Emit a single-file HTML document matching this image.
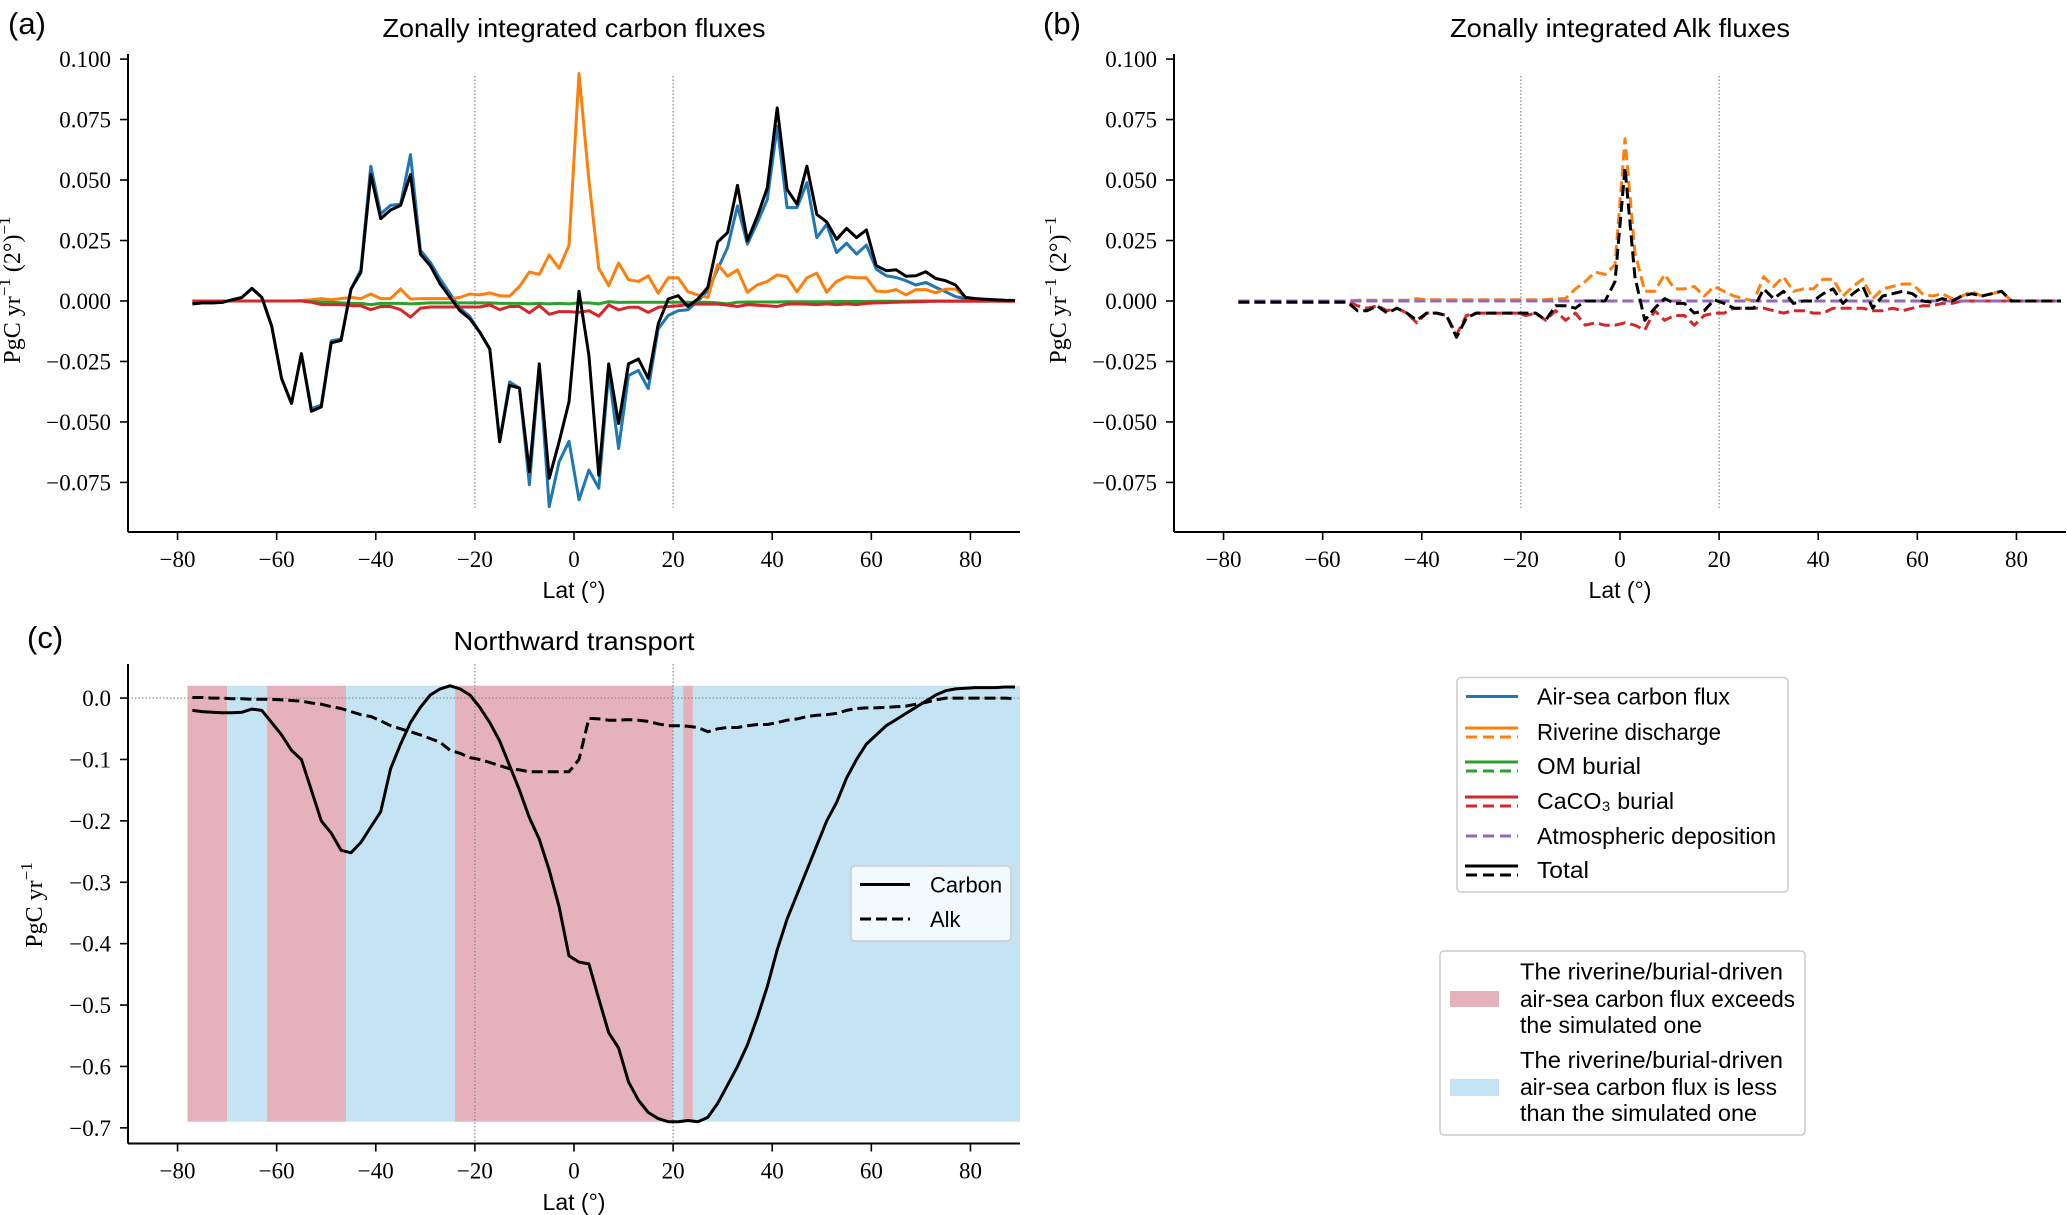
<!DOCTYPE html>
<html><head><meta charset="utf-8"><title>Carbon and Alk fluxes</title>
<style>
html,body{margin:0;padding:0;background:#fff;}
svg{display:block;}
.sans{font-family:"Liberation Sans",sans-serif;}
.serif{font-family:"Liberation Serif",serif;}
</style></head>
<body>
<svg id="fig" width="2067" height="1215" viewBox="0 0 2067 1215" xmlns="http://www.w3.org/2000/svg">
<rect width="2067" height="1215" fill="#fff"/>
</svg>
<script>
// ---------- data ----------
const lats = [-77,-75,-73,-71,-69,-67,-65,-63,-61,-59,-57,-55,-53,-51,-49,-47,-45,-43,-41,-39,-37,-35,-33,-31,-29,-27,-25,-23,-21,-19,-17,-15,-13,-11,-9,-7,-5,-3,-1,
1,3,5,7,9,11,13,15,17,19,21,23,25,27,29,31,33,35,37,39,41,43,45,47,49,51,53,55,57,59,61,63,65,67,69,71,73,75,77,79,81,83,85,87,89];

// panel (a) carbon fluxes
const cAirSea = [-0.0012,-0.0008,-0.0008,-0.0006,0.0005,0.0015,0.0052,0.0015,-0.0104,-0.0321,-0.0424,-0.0218,-0.0445,-0.043,-0.0165,-0.0157,0.0049,0.013,0.0557,0.036,0.0395,0.040,0.0605,0.021,0.016,0.009,0.003,-0.003,-0.0065,-0.013,-0.02,-0.058,-0.0335,-0.036,-0.076,-0.027,-0.085,-0.0665,-0.058,
-0.0822,-0.0699,-0.0774,-0.0294,-0.061,-0.0308,-0.0287,-0.0362,-0.0115,-0.006,-0.004,-0.0036,0,0.0043,0.0132,0.0221,0.0393,0.0235,0.0324,0.042,0.0722,0.0386,0.0386,0.0489,0.0262,0.0317,0.02,0.0239,0.0194,0.0231,0.0132,0.0104,0.0097,0.0084,0.0066,0.0077,0.0056,0.0038,0.0018,0.001,0.0008,0.0005,0.0003,0.0002,0.0001];
const cRiver = [0,0,0,0,0,0,0,0,0,0,0,0.0002,0.0005,0.001,0.0005,0.001,0.0015,0.001,0.0029,0.001,0.001,0.005,0.0008,0.001,0.001,0.001,0.001,0.0015,0.0029,0.0025,0.0033,0.0022,0.002,0.006,0.012,0.011,0.019,0.0135,0.023,
0.094,0.05,0.0135,0.0063,0.0157,0.0088,0.0081,0.0104,0.0032,0.0096,0.0096,0.0038,0.0025,0.0015,0.0151,0.0103,0.0129,0.0036,0.0067,0.0081,0.0108,0.01,0.0038,0.0096,0.0115,0.0036,0.0081,0.01,0.0096,0.0096,0.0041,0.0038,0.0047,0.0025,0.0047,0.0047,0.0034,0.0049,0.0049,0.0015,0,0,0,0,0];
const cOM = [0,0,0,0,0,0,0,0,0,0,0,0,-0.0002,-0.0004,-0.0006,-0.0008,-0.001,-0.001,-0.0015,-0.001,-0.001,-0.001,-0.0012,-0.001,-0.0008,-0.0008,-0.0008,-0.0008,-0.0008,-0.0008,-0.0008,-0.001,-0.001,-0.001,-0.0012,-0.001,-0.0012,-0.001,-0.0012,
-0.0008,-0.0008,-0.0012,-0.0003,-0.0006,-0.0005,-0.0005,-0.0005,-0.0005,-0.0005,-0.0005,-0.0005,-0.0005,-0.0005,-0.0008,-0.0012,-0.0005,-0.0004,-0.0004,-0.0004,-0.0004,-0.0003,-0.0003,-0.0003,-0.0003,-0.0003,-0.0002,-0.0002,-0.0002,-0.0002,-0.0001,-0.0001,-0.0001,-0.0001,0,0,0,0,0,0,0,0,0,0,0];
const cCaCO3 = [0,0,0,0,0,0,0,0,0,0,0,0,-0.0005,-0.0015,-0.0015,-0.0015,-0.002,-0.002,-0.0036,-0.0023,-0.0023,-0.0036,-0.0067,-0.003,-0.0025,-0.0025,-0.0025,-0.0025,-0.0025,-0.0025,-0.0016,-0.0036,-0.0023,-0.0023,-0.0049,-0.0019,-0.0055,-0.0044,-0.0044,
-0.0047,-0.004,-0.0063,-0.0016,-0.0037,-0.0026,-0.0026,-0.0047,-0.0026,-0.0023,-0.002,-0.0015,-0.0013,-0.0013,-0.0013,-0.0017,-0.0023,-0.0015,-0.0018,-0.002,-0.0023,-0.0013,-0.0012,-0.0013,-0.0015,-0.0012,-0.0015,-0.0012,-0.0015,-0.001,-0.0008,-0.0007,-0.0005,-0.0004,-0.0003,-0.0002,-0.0001,-0.0001,-0.0001,-0.0001,-0.0001,-0.0001,-0.0001,-0.0001,-0.0001];
const cTotal = [-0.0012,-0.0008,-0.0008,-0.0006,0.0005,0.0015,0.0052,0.0015,-0.0104,-0.0321,-0.0424,-0.0218,-0.0456,-0.0438,-0.0173,-0.0163,0.0049,0.0118,0.0523,0.034,0.0376,0.0395,0.0523,0.0194,0.0146,0.007,0.0015,-0.004,-0.0074,-0.0129,-0.0198,-0.0582,-0.0349,-0.036,-0.0706,-0.026,-0.0733,-0.0582,-0.0417,
0.004,-0.0225,-0.072,-0.026,-0.0507,-0.026,-0.024,-0.032,-0.0095,0.0008,0.0022,-0.0023,0.0008,0.0056,0.0244,0.0283,0.0478,0.0249,0.0351,0.0468,0.0798,0.0461,0.04,0.0557,0.0358,0.0327,0.0255,0.03,0.0262,0.0294,0.0146,0.0125,0.0129,0.0102,0.0104,0.0121,0.0093,0.0084,0.0066,0.0015,0.001,0.0007,0.0005,0.0003,0.0002];

// panel (b) alkalinity fluxes
const aRiver = [0,0,0,0,0,0,0,0,0,0,0,0,0.0003,0.0003,0.0003,0.0003,0.0003,0.0003,0.001,0.0005,0.0005,0.0005,0.0005,0.0005,0.0005,0.0005,0.0005,0.0005,0.0005,0.0005,0.0005,0.0005,0.001,0.001,0.005,0.008,0.012,0.011,0.015,
0.067,0.02,0.004,0.004,0.011,0.005,0.005,0.006,0.002,0.006,0.004,0.002,0.001,0,0.01,0.006,0.01,0.004,0.005,0.005,0.009,0.009,0.002,0.006,0.009,0.001,0.005,0.006,0.007,0.007,0.003,0.002,0.003,0.001,0.002,0.004,0.002,0.003,0.004,0,0,0,0,0,0];
const aOM = [0,0,0,0,0,0,0,0,0,0,0,0,0,0,0,0,0,0,0,0,0,0,0,0,0,0,0,0,0,0,0,0,0,0,0,0,0,0,0,
0,0,0,0,0,0,0,0,0,0,0,0,0,0,0,0,0,0,0,0,0,0,0,0,0,0,0,0,0,0,0,0,0,0,0,0,0,0,0,0,0,0,0,0,0];
const aCaCO3 = [0,0,0,0,0,0,0,0,0,0,0,0,-0.002,-0.003,-0.002,-0.004,-0.003,-0.005,-0.009,-0.005,-0.005,-0.006,-0.014,-0.006,-0.005,-0.005,-0.005,-0.005,-0.005,-0.006,-0.005,-0.008,-0.004,-0.008,-0.005,-0.01,-0.009,-0.01,-0.01,
-0.009,-0.01,-0.012,-0.004,-0.008,-0.006,-0.006,-0.01,-0.006,-0.005,-0.005,-0.003,-0.003,-0.003,-0.003,-0.004,-0.005,-0.004,-0.004,-0.005,-0.005,-0.003,-0.003,-0.003,-0.003,-0.004,-0.004,-0.003,-0.004,-0.003,-0.002,-0.002,-0.001,-0.001,0,0,0,0,0,0,0,0,0,0,0];
const aAtm = [0,0,0,0,0,0,0,0,0,0,0,0,0,0,0,0,0,0,0,0,0,0,0,0,0,0,0,0,0,0,0,0,0,0,0,0,0,0,0,
0,0,0,0,0,0,0,0,0,0,0,0,0,0,0,0,0,0,0,0,0,0,0,0,0,0,0,0,0,0,0,0,0,0,0,0,0,0,0,0,0,0,0,0,0];
const aTotal = [-0.0005,-0.0005,-0.0005,-0.0005,-0.0005,-0.0005,-0.0005,-0.0005,-0.0005,-0.0005,-0.0005,-0.0005,-0.004,-0.004,-0.002,-0.005,-0.003,-0.005,-0.008,-0.005,-0.005,-0.006,-0.015,-0.007,-0.005,-0.005,-0.005,-0.005,-0.005,-0.005,-0.005,-0.008,-0.002,-0.002,-0.003,0,0,0,0.008,
0.055,0.01,-0.008,-0.003,0.001,-0.001,-0.001,-0.005,-0.004,0.0005,-0.001,-0.003,-0.003,-0.003,0.005,0.001,0.004,-0.001,0,0,0.003,0.005,-0.001,0.003,0.006,-0.003,0.002,0.003,0.004,0.003,0,-0.0005,0.001,0,0.002,0.003,0.002,0.003,0.004,0,0,0,0,0,0];

// panel (c) northward transport
const tCarbon = [-0.02,-0.022,-0.023,-0.024,-0.024,-0.023,-0.018,-0.02,-0.04,-0.06,-0.085,-0.1,-0.15,-0.2,-0.22,-0.248,-0.252,-0.235,-0.21,-0.185,-0.115,-0.075,-0.04,-0.015,0.005,0.015,0.02,0.015,0.005,-0.015,-0.04,-0.07,-0.11,-0.15,-0.195,-0.23,-0.28,-0.34,-0.42,
-0.43,-0.433,-0.49,-0.545,-0.57,-0.625,-0.655,-0.675,-0.685,-0.69,-0.69,-0.688,-0.69,-0.683,-0.66,-0.63,-0.6,-0.565,-0.52,-0.47,-0.41,-0.36,-0.32,-0.28,-0.24,-0.2,-0.17,-0.13,-0.1,-0.075,-0.06,-0.045,-0.035,-0.025,-0.015,-0.005,0.005,0.012,0.015,0.016,0.017,0.017,0.017,0.018,0.018];
const tAlk = [0.001,0.001,0,0,-0.001,-0.001,-0.002,-0.002,-0.002,-0.003,-0.004,-0.005,-0.008,-0.01,-0.014,-0.017,-0.022,-0.027,-0.03,-0.037,-0.045,-0.05,-0.055,-0.06,-0.066,-0.072,-0.085,-0.09,-0.097,-0.1,-0.105,-0.11,-0.115,-0.117,-0.12,-0.12,-0.12,-0.12,-0.12,
-0.1,-0.033,-0.034,-0.036,-0.036,-0.035,-0.036,-0.038,-0.042,-0.045,-0.045,-0.046,-0.048,-0.055,-0.05,-0.048,-0.048,-0.045,-0.043,-0.043,-0.04,-0.036,-0.034,-0.03,-0.028,-0.027,-0.025,-0.02,-0.017,-0.016,-0.016,-0.015,-0.014,-0.013,-0.01,-0.007,-0.003,0,0,0,0,0,0,0,-0.001];
const spanStart = [-78,-70,-62,-46,-24,20,22,24];
const spanEnd   = [-70,-62,-46,-24,20,22,24,90];
const spanKind  = ['exceeds','less','exceeds','less','exceeds','less','exceeds','less'];
const spanLow = -0.69, spanHigh = 0.02;

const xTicks = [-80,-60,-40,-20,0,20,40,60,80];
const yTicksAB = [0.1,0.075,0.05,0.025,0,-0.025,-0.05,-0.075];
const yTickLabelsAB = ['0.100','0.075','0.050','0.025','0.000','\u22120.025','\u22120.050','\u22120.075'];
const yTicksC = [0,-0.1,-0.2,-0.3,-0.4,-0.5,-0.6,-0.7];
const yTickLabelsC = ['0.0','\u22120.1','\u22120.2','\u22120.3','\u22120.4','\u22120.5','\u22120.6','\u22120.7'];

// ---------- drawing ----------
const NS = 'http://www.w3.org/2000/svg';
const svg = document.getElementById('fig');
function el(tag, attrs, parent){
  const e = document.createElementNS(NS, tag);
  for (const k in attrs) e.setAttribute(k, attrs[k]);
  (parent||svg).appendChild(e);
  return e;
}
function makeAxes(left, right, top, bottom, yMin, yMax){
  return {
    x: v => left + (v + 90) / 180 * (right - left),
    y: v => bottom - (v - yMin) / (yMax - yMin) * (bottom - top),
    left, right, top, bottom
  };
}
const axA = makeAxes(128, 1020, 54, 532, -0.0955, 0.1021);
const axB = makeAxes(1174, 2066, 54, 532, -0.0955, 0.1021);
const axC = makeAxes(128, 1020, 664, 1143.5, -0.7255, 0.0555);

function pathD(ax, xs, ys){
  let d = '';
  for (let i = 0; i < xs.length; i++) d += (i ? 'L' : 'M') + ax.x(xs[i]).toFixed(1) + ',' + ax.y(ys[i]).toFixed(1);
  return d;
}
function series(ax, ys, color, dashed, name, g){
  const p = el('path', {d: pathD(ax, lats, ys), fill:'none', stroke: color, 'stroke-width': 3, 'stroke-linejoin':'round'}, g);
  if (dashed) p.setAttribute('stroke-dasharray', '11 5');
  
  
  return p;
}
function txt(x, y, s, cls, size, anchor, name, g){
  const t = el('text', {x, y, 'font-size': size, 'text-anchor': anchor || 'start', fill:'#000', class: cls}, g);
  t.textContent = s;
  
  
  return t;
}
function axesFrame(ax, yT, yL, tickLabelRight, labelY, g){
  const xs = el('line', {x1: ax.left, y1: ax.bottom, x2: ax.right, y2: ax.bottom, stroke:'#000', 'stroke-width': 2}, g);
  
  
  const ys = el('line', {x1: ax.left, y1: ax.top, x2: ax.left, y2: ax.bottom, stroke:'#000', 'stroke-width': 2}, g);
  
  
  xTicks.forEach(v => {
    const X = ax.x(v);
    const tk = el('line', {x1: X, y1: ax.bottom, x2: X, y2: ax.bottom + 8, stroke:'#000', 'stroke-width': 1.6}, g);
    
    
    const lab = v < 0 ? '\u2212' + (-v) : String(v);
    txt(X, ax.bottom + 35, lab, 'serif', 23, 'middle', 'x-tick-label', g);
  });
  yT.forEach((v, i) => {
    const Y = ax.y(v);
    const tk = el('line', {x1: ax.left - 8, y1: Y, x2: ax.left, y2: Y, stroke:'#000', 'stroke-width': 1.6}, g);
    
    
    txt(tickLabelRight, Y + 8, yL[i], 'serif', 23, 'end', 'y-tick-label', g);
  });
  const xl = txt((ax.left + ax.right) / 2, labelY, 'Lat (\u00b0)', 'sans', 23, 'middle', 'x-axis-title', g);
}
function vline(ax, xv, y1, y2, name, g){
  const l = el('line', {x1: ax.x(xv), y1, x2: ax.x(xv), y2, stroke:'#888', 'stroke-width': 1.2, 'stroke-dasharray':'1.5 2'}, g);
  
  
}
function yTitle(x, y, name, withPerDeg, g){
  const t = el('text', {x: 0, y: 0, 'font-size': 24, 'text-anchor':'middle', class:'serif', transform:`translate(${x},${y}) rotate(-90)`}, g);
  
  
  let html = 'PgC yr<tspan dy="-10" font-size="17">\u22121</tspan>';
  if (withPerDeg) html += '<tspan dy="10"> (2\u00b0)</tspan><tspan dy="-10" font-size="17">\u22121</tspan>';
  t.innerHTML = html;
}

// ===== Panel (a) =====
const gA = el('g', {});


txt(8, 34, '(a)', 'sans', 31, 'start', 'panel-label-a', gA);
const tA = txt(574, 37, 'Zonally integrated carbon fluxes', 'sans', 26, 'middle', 'chart-title-a', gA);
tA.setAttribute('textLength', 383); tA.setAttribute('lengthAdjust', 'spacingAndGlyphs');
vline(axA, -20, axA.y(0.093), axA.y(-0.0855), 'tropic-line-south', gA);
vline(axA, 20, axA.y(0.093), axA.y(-0.0855), 'tropic-line-north', gA);
series(axA, cAirSea, '#1f77b4', false, 'air-sea-carbon-flux-line', gA);
series(axA, cRiver, '#ff7f0e', false, 'riverine-discharge-line', gA);
series(axA, cOM, '#2ca02c', false, 'om-burial-line', gA);
series(axA, cCaCO3, '#d62728', false, 'caco3-burial-line', gA);
series(axA, cTotal, '#000000', false, 'total-carbon-line', gA);
axesFrame(axA, yTicksAB, yTickLabelsAB, 111, 598, gA);
yTitle(20, 290, 'y-axis-title-a', true, gA);

// ===== Panel (b) =====
const gB = el('g', {});


txt(1043, 34, '(b)', 'sans', 31, 'start', 'panel-label-b', gB);
const tB = txt(1620, 37, 'Zonally integrated Alk fluxes', 'sans', 26, 'middle', 'chart-title-b', gB);
tB.setAttribute('textLength', 340); tB.setAttribute('lengthAdjust', 'spacingAndGlyphs');
vline(axB, -20, axB.y(0.093), axB.y(-0.0855), 'tropic-line-south', gB);
vline(axB, 20, axB.y(0.093), axB.y(-0.0855), 'tropic-line-north', gB);
series(axB, aRiver, '#ff7f0e', true, 'riverine-alk-line', gB);
series(axB, aOM, '#2ca02c', true, 'om-burial-alk-line', gB);
series(axB, aCaCO3, '#d62728', true, 'caco3-burial-alk-line', gB);
series(axB, aAtm, '#9467bd', true, 'atmospheric-deposition-line', gB);
series(axB, aTotal, '#000000', true, 'total-alk-line', gB);
axesFrame(axB, yTicksAB, yTickLabelsAB, 1157, 598, gB);
yTitle(1066, 290, 'y-axis-title-b', true, gB);

// ===== Panel (c) =====
const gC = el('g', {});


txt(27, 648, '(c)', 'sans', 31, 'start', 'panel-label-c', gC);
const tC = txt(574, 650, 'Northward transport', 'sans', 26, 'middle', 'chart-title-c', gC);
tC.setAttribute('textLength', 241); tC.setAttribute('lengthAdjust', 'spacingAndGlyphs');
spanStart.forEach((s, i) => {
  const x1 = axC.x(s), x2 = axC.x(spanEnd[i]);
  const r = el('rect', {x: x1, y: axC.y(spanHigh), width: x2 - x1, height: axC.y(spanLow) - axC.y(spanHigh),
    fill: spanKind[i] === 'exceeds' ? '#e5b2bb' : '#c4e4f4'}, gC);
  
  
});
vline(axC, -20, axC.top, axC.bottom, 'tropic-line-south', gC);
vline(axC, 20, axC.top, axC.bottom, 'tropic-line-north', gC);
const hz = el('line', {x1: axC.left, y1: axC.y(0), x2: axC.right, y2: axC.y(0), stroke:'#888', 'stroke-width': 1.2, 'stroke-dasharray':'1.5 2'}, gC);


series(axC, tCarbon, '#000', false, 'carbon-transport-line', gC);
series(axC, tAlk, '#000', true, 'alk-transport-line', gC);
axesFrame(axC, yTicksC, yTickLabelsC, 111, 1210, gC);
yTitle(42, 905, 'y-axis-title-c', false, gC);

// legend panel c
const lgC = el('g', {}, gC);


el('rect', {x: 851, y: 866, width: 160, height: 75, rx: 4, fill:'#ffffff', 'fill-opacity': 0.8, stroke:'#cccccc', 'stroke-width': 1.5}, lgC);
const l1 = el('line', {x1: 860, y1: 884.5, x2: 910, y2: 884.5, stroke:'#000', 'stroke-width': 3}, lgC);


const l2 = el('line', {x1: 860, y1: 919, x2: 910, y2: 919, stroke:'#000', 'stroke-width': 3, 'stroke-dasharray':'11 5'}, lgC);


txt(930, 892.5, 'Carbon', 'sans', 22, 'start', 'legend-carbon-label', lgC);
txt(930, 927, 'Alk', 'sans', 22, 'start', 'legend-alk-label', lgC);

// ===== Legend (fluxes) =====
const lg1 = el('g', {});


el('rect', {x: 1457, y: 677.5, width: 331, height: 214.5, rx: 4, fill:'#fff', stroke:'#cccccc', 'stroke-width': 1.5}, lg1);
const legItems = [
  ['Air-sea carbon flux', '#1f77b4', true, false, 193],
  ['Riverine discharge', '#ff7f0e', true, true, 184],
  ['OM burial', '#2ca02c', true, true, 104],
  ['CaCO\u2083 burial', '#d62728', true, true, 137],
  ['Atmospheric deposition', '#9467bd', false, true, 239],
  ['Total', '#000000', true, true, 52]
];
const legRows = [696.5, 732, 766, 801, 836, 870];
legItems.forEach((it, i) => {
  const y = legRows[i];
  if (it[2] && it[3]) {
    const a = el('line', {x1: 1465, y1: y - 4, x2: 1518, y2: y - 4, stroke: it[1], 'stroke-width': 3}, lg1);
    
    
    const b = el('line', {x1: 1466, y1: y + 5, x2: 1518, y2: y + 5, stroke: it[1], 'stroke-width': 3, 'stroke-dasharray':'11 6'}, lg1);
    
    
  } else {
    const a = el('line', {x1: 1466, y1: y, x2: 1518, y2: y, stroke: it[1], 'stroke-width': 3}, lg1);
    if (!it[2]) a.setAttribute('stroke-dasharray', '11 6');
    
    
  }
  const t = txt(1537, y + 8, it[0], 'sans', 23, 'start', 'legend-entry', lg1);
  t.setAttribute('textLength', it[4]); t.setAttribute('lengthAdjust', 'spacingAndGlyphs');
});

// ===== Legend (spans) =====
const lg2 = el('g', {});


el('rect', {x: 1440, y: 951, width: 365, height: 184, rx: 4, fill:'#fff', stroke:'#cccccc', 'stroke-width': 1.5}, lg2);
const p1 = el('rect', {x: 1450, y: 991, width: 49, height: 16, fill:'#e5b2bb'}, lg2);


const p2 = el('rect', {x: 1450, y: 1079, width: 49, height: 17, fill:'#c4e4f4'}, lg2);


const spanLines = [
  ['The riverine/burial-driven', 971.5, 263],
  ['air-sea carbon flux exceeds', 999, 275],
  ['the simulated one', 1025, 182],
  ['The riverine/burial-driven', 1060, 263],
  ['air-sea carbon flux is less', 1087, 257],
  ['than the simulated one', 1113, 237]
];
spanLines.forEach(s => {
  const t = txt(1520, s[1] + 8, s[0], 'sans', 23, 'start', 'legend-span-text', lg2);
  t.setAttribute('textLength', s[2]); t.setAttribute('lengthAdjust', 'spacingAndGlyphs');
});
</script>
</body></html>
